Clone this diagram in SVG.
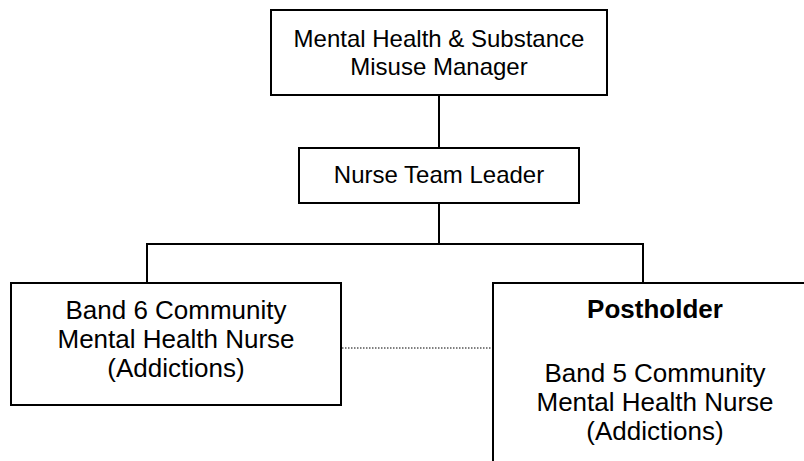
<svg xmlns="http://www.w3.org/2000/svg" width="804" height="461" viewBox="0 0 804 461">
<style>
.box{fill:#fff;stroke:#000;stroke-width:2}
.t{font-family:"Liberation Sans",Arial,sans-serif;font-size:24px;fill:#000;text-anchor:middle}
.l{font-size:26px}
.b{font-weight:bold}
.c{fill:none;stroke:#000;stroke-width:2}
.d{fill:none;stroke:#000;stroke-width:1;stroke-dasharray:1.5 1.5}
</style>
<rect width="804" height="461" fill="#fff"/>
<g id="connectors">
<line class="c" x1="439" y1="95" x2="439" y2="148"/>
<polyline class="c" points="147,283 147,244 643,244 643,283"/>
<line class="c" x1="439" y1="203" x2="439" y2="244"/>
<line class="d" x1="342" y1="348" x2="492" y2="348"/>
</g>
<g id="manager">
<rect class="box" x="271" y="10" width="336" height="85"/>
<text class="t" x="439" y="47">Mental Health &amp; Substance</text>
<text class="t" x="439" y="75">Misuse Manager</text>
</g>
<g id="team-leader">
<rect class="box" x="299" y="148" width="280" height="55"/>
<text class="t" x="439" y="183">Nurse Team Leader</text>
</g>
<g id="band6">
<rect class="box" x="11" y="283" width="330" height="122"/>
<text class="t l" x="176" y="319">Band 6 Community</text>
<text class="t l" x="176" y="348">Mental Health Nurse</text>
<text class="t l" x="176" y="377">(Addictions)</text>
</g>
<g id="postholder">
<rect class="box" x="493" y="283" width="330" height="200"/>
<text class="t l b" x="655" y="318">Postholder</text>
<text class="t l" x="655" y="382">Band 5 Community</text>
<text class="t l" x="655" y="411">Mental Health Nurse</text>
<text class="t l" x="655" y="440">(Addictions)</text>
</g>
</svg>
